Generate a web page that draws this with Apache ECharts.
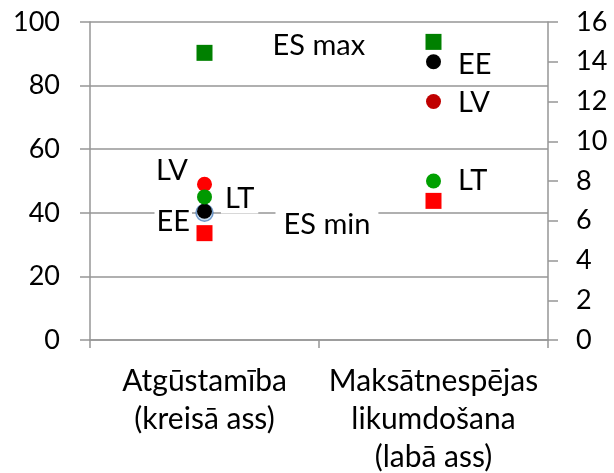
<!DOCTYPE html>
<html>
<head>
<meta charset="utf-8">
<script src="https://cdn.jsdelivr.net/npm/echarts@6/dist/echarts.min.js"></script>
<style>
  html, body { margin: 0; padding: 0; background: #fff; }
  #main { width: 614px; height: 473px; }
</style>
</head>
<body>
<div id="main"></div>
<script>
const categories = ['Atgūstamība\n(kreisā ass)', 'Maksātnespējas\nlikumdošana\n(labā ass)']
const seriesNames = ['ES max', 'ES min', 'EE', 'LV', 'LT']
// Atgūstamība, read on the left axis
const leftAxisValues = [90.3, 33.6, 40.5, 49, 45]
// Maksātnespējas likumdošana, read on the right axis
const rightAxisValues = [15, 7, 14, 12, 8]
const euAverageLeft = 40
const leftTicks = [0, 100, 20]
const rightTicks = [0, 16, 2]

const chartDom = document.getElementById('main')
const myChart = echarts.init(chartDom, null, { renderer: 'canvas' })

const FONT = 'Lato'
const FS = 29
const TICK_FS = 27
const axisGrey = '#969696'

const markerStyle = {
  'ES max': { symbol: 'rect', color: ['#008000', '#008000'] },
  'ES min': { symbol: 'rect', color: ['#ff0000', '#ff0000'] },
  'EE': { symbol: 'circle', color: ['#000000', '#000000'] },
  'LV': { symbol: 'circle', color: ['#ff0000', '#c00000'] },
  'LT': { symbol: 'circle', color: ['#009900', '#00a000'] }
}

// label placement for each point: [left category, right category]
const labelPos = {
  'ES max': [{ show: true, position: 'right', offset: [55, -7] }, { show: false }],
  'ES min': [{ show: true, position: 'right', offset: [58, -9], padding: [0, 8] }, { show: false }],
  'EE': [{ show: true, position: 'left', offset: [0, 10], padding: [0, 2] }, { show: true, position: 'right', offset: [12, 3] }],
  'LV': [{ show: true, position: 'left', offset: [-4, -14] }, { show: true, position: 'right', offset: [12, 1] }],
  'LT': [{ show: true, position: 'right', offset: [4, 2], padding: [0, 4] }, { show: true, position: 'right', offset: [12, 0] }]
}

const series = []
// light blue marker behind EE on the left
series.push({
  type: 'scatter',
  yAxisIndex: 0,
  symbol: 'circle',
  symbolSize: 17,
  z: 1,
  itemStyle: { color: '#bdd7ee', borderColor: '#4f81bd', borderWidth: 1.5 },
  data: [[0, euAverageLeft]],
  silent: true
})
seriesNames.forEach((name, i) => {
  const st = markerStyle[name]
  const size = st.symbol === 'rect' ? 16 : 15
  const lab = labelPos[name]
  const base = { formatter: name, color: '#000', fontSize: FS, fontFamily: FONT, backgroundColor: '#fff' }
  series.push({
    name: name,
    type: 'scatter',
    yAxisIndex: 0,
    symbol: st.symbol,
    symbolSize: size,
    z: 3,
    itemStyle: { color: st.color[0], opacity: 1 },
    label: Object.assign({}, base, lab[0]),
    data: [[0, leftAxisValues[i]]]
  })
  series.push({
    name: name,
    type: 'scatter',
    yAxisIndex: 1,
    symbol: st.symbol,
    symbolSize: size,
    z: 3,
    itemStyle: { color: st.color[1], opacity: 1 },
    label: Object.assign({}, base, lab[1]),
    data: [[1, rightAxisValues[i]]]
  })
})

const option = {
  animation: false,
  grid: {
    left: 90,
    right: 66,
    top: 22,
    bottom: 133,
    outerBoundsMode: 'none'
  },
  xAxis: {
    type: 'category',
    data: categories,
    boundaryGap: true,
    axisLine: { lineStyle: { color: axisGrey, width: 1.5 } },
    axisTick: { show: true, length: 8, lineStyle: { color: axisGrey, width: 1.5 } },
    axisLabel: {
      color: '#000',
      fontSize: 30,
      fontFamily: FONT,
      lineHeight: 38,
      margin: 22,
      interval: 0
    },
    splitLine: { show: false }
  },
  yAxis: [
    {
      type: 'value',
      min: leftTicks[0],
      max: leftTicks[1],
      interval: leftTicks[2],
      position: 'left',
      axisLine: { show: true, lineStyle: { color: axisGrey, width: 1.5 } },
      axisTick: { show: true, length: 10, lineStyle: { color: axisGrey, width: 1.5 } },
      axisLabel: { color: '#000', fontSize: TICK_FS, fontFamily: FONT, margin: 30 },
      splitLine: { show: true, lineStyle: { color: axisGrey, width: 1.5 } }
    },
    {
      type: 'value',
      min: rightTicks[0],
      max: rightTicks[1],
      interval: rightTicks[2],
      position: 'right',
      axisLine: { show: true, lineStyle: { color: axisGrey, width: 1.5 } },
      axisTick: { show: true, length: 10, lineStyle: { color: axisGrey, width: 1.5 } },
      axisLabel: { color: '#000', fontSize: TICK_FS, fontFamily: FONT, margin: 28 },
      splitLine: { show: false }
    }
  ],
  series: series
}

option && myChart.setOption(option)
</script>
</body>
</html>
